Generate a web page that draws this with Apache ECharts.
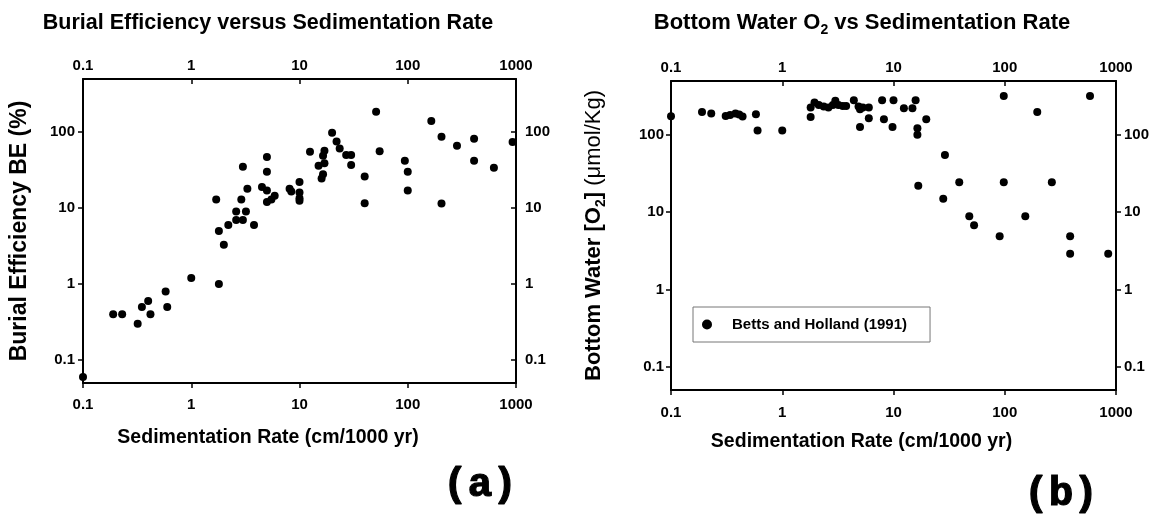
<!DOCTYPE html>
<html>
<head>
<meta charset="utf-8">
<script src="https://cdn.jsdelivr.net/npm/echarts@6/dist/echarts.min.js"></script>
<style>
  html, body { margin: 0; padding: 0; background: #fff; }
  #chart { width: 1160px; height: 517px; }
</style>
</head>
<body>
<div id="chart"></div>
<script>
const FONT = '"Liberation Sans", Arial, sans-serif';

const xTickLabels = ['0.1', '1', '10', '100', '1000'];
const yTickLabels = ['0.1', '1', '10', '100'];

// (a) burial efficiency vs sedimentation rate
const sedA = [0.1, 0.19, 0.23, 0.32, 0.35, 0.4, 0.42, 0.58, 0.6, 1.0,
  1.7, 1.8, 1.8, 2.0, 2.2, 2.6, 2.6, 2.9, 3.0, 3.0,
  3.2, 3.3, 3.8, 4.5, 5.0, 5.0, 5.0, 5.0, 5.9, 5.5,
  8.1, 8.4, 10, 10, 10, 10, 12.5, 15, 16, 16.5,
  16.5, 17, 17, 20, 22, 23.5, 27, 30, 30, 40,
  40, 51, 55, 94, 100, 100, 165, 205, 205, 285,
  410, 410, 625, 930];
const beA = [0.06, 0.4, 0.4, 0.3, 0.5, 0.6, 0.4, 0.8, 0.5, 1.2,
  13, 1.0, 5, 3.3, 6, 9, 7, 13, 35, 7,
  9, 18, 6, 19, 47, 30, 17, 12, 14.5, 13,
  18, 16.5, 22, 16, 13.5, 12.5, 55, 36, 24.5, 28,
  49, 57, 39, 98, 75, 61, 50, 50, 37, 26,
  11.6, 185, 56, 42, 30, 17, 140, 87, 11.5, 66,
  82, 42, 34, 74];

// (b) bottom water O2 vs sedimentation rate
const seriesNameB = 'Betts and Holland (1991)';
const sedB = [0.1, 0.19, 0.23, 0.31, 0.34, 0.38, 0.41, 0.44, 0.58, 0.6,
  1.0, 1.8, 1.8, 1.95, 2.13, 2.36, 2.6, 2.85, 3.0, 3.2,
  3.5, 3.75, 4.4, 4.85, 5.0, 5.3, 6.0, 5.0, 6.0, 7.9,
  8.2, 10, 9.8, 12.4, 14.8, 15.8, 16.4, 16.4, 19.7, 16.7,
  29, 28, 39, 48, 53, 90, 98, 98, 153, 196,
  265, 387, 387, 584, 851];
const o2B = [175, 199, 190, 176, 182, 190, 184, 173, 185, 114,
  114, 171, 227, 264, 245, 233, 227, 245, 277, 245,
  238, 238, 282, 233, 216, 227, 227, 127, 165, 282,
  160, 282, 127, 222, 222, 282, 122, 101, 160, 22,
  55, 15, 24.5, 8.9, 6.8, 4.9, 320, 24.5, 8.9, 199,
  24.5, 4.9, 2.9, 320, 2.9];

function decadeLabel(list) {
  return function (v) {
    const l = Math.log10(v);
    const e = Math.round(l);
    if (Math.abs(l - e) > 0.01) return '';
    const s = String(+Math.pow(10, e).toFixed(6));
    return list.indexOf(s) >= 0 ? s : '';
  };
}

const labelStyle = { color: '#000', fontFamily: FONT, fontWeight: 'bold', fontSize: 15 };

function xAxis(grid, pos, margin, inside, name, nameGap, namePad) {
  return {
    type: 'log', logBase: 10, min: 0.1, max: 1000, gridIndex: grid, position: pos,
    name: name || '', nameLocation: 'middle', nameGap: nameGap || 0,
    nameTextStyle: { color: '#000', fontFamily: FONT, fontWeight: 'bold', fontSize: 19.5, padding: [0, namePad || 0, 0, 0] },
    axisLine: { show: true, onZero: false, lineStyle: { color: '#000', width: 2 } },
    axisTick: { show: true, inside: inside, length: 5, lineStyle: { color: '#000', width: 1.5 } },
    minorTick: { show: false },
    axisLabel: Object.assign({ margin: margin, formatter: decadeLabel(xTickLabels) }, labelStyle),
    splitLine: { show: false }
  };
}

function yAxis(grid, pos, margin, inside, name, nameGap, nameStyle) {
  return {
    type: 'log', logBase: 10, min: 0.05, max: 500, gridIndex: grid, position: pos,
    name: name || '', nameLocation: 'middle', nameGap: nameGap || 0,
    nameTextStyle: nameStyle || {},
    axisLine: { show: true, onZero: false, lineStyle: { color: '#000', width: 2 } },
    axisTick: { show: true, inside: inside, length: 5, lineStyle: { color: '#000', width: 1.5 } },
    minorTick: { show: false },
    axisLabel: Object.assign({ margin: margin, showMinLabel: false, showMaxLabel: false,
      formatter: decadeLabel(yTickLabels) }, labelStyle),
    splitLine: { show: false }
  };
}

const chart = echarts.init(document.getElementById('chart'));

chart.setOption({
  backgroundColor: '#fff',
  animation: false,
  grid: [
    { left: 83, top: 79, right: 644, bottom: 134, containLabel: false },
    { left: 671, top: 81, right: 44, bottom: 127, containLabel: false }
  ],
  xAxis: [
    xAxis(0, 'bottom', 14, false, 'Sedimentation Rate (cm/1000 yr)', 45, 63),
    xAxis(0, 'top', 6, true),
    xAxis(1, 'bottom', 15, false, 'Sedimentation Rate (cm/1000 yr)', 42, 64),
    xAxis(1, 'top', 6, true)
  ],
  yAxis: [
    yAxis(0, 'left', 8, false, 'Burial Efficiency BE (%)', 52,
      { color: '#000', fontFamily: FONT, fontWeight: 'bold', fontSize: 23 }),
    yAxis(0, 'right', 9, true),
    yAxis(1, 'left', 7, false, '{b|Bottom Water [O}{s|2}{b|]} {r|(\u03bcmol/Kg)}', 63, {
      color: '#000', fontFamily: FONT, fontSize: 22,
      rich: {
        b: { color: '#000', fontFamily: FONT, fontWeight: 'bold', fontSize: 22, lineHeight: 28 },
        r: { color: '#000', fontFamily: FONT, fontWeight: 'normal', fontSize: 22, lineHeight: 28 },
        s: { color: '#000', fontFamily: FONT, fontWeight: 'bold', fontSize: 14, lineHeight: 14, verticalAlign: 'bottom' }
      }
    }),
    yAxis(1, 'right', 8, false)
  ],
  legend: {
    data: [seriesNameB],
    left: 693, top: 307,
    padding: [10, 23, 10, 9],
    itemWidth: 40, itemHeight: 10,
    icon: 'circle',
    borderColor: '#777', borderWidth: 1,
    textStyle: { color: '#000', fontFamily: FONT, fontWeight: 'bold', fontSize: 15 }
  },
  graphic: [
    { type: 'text', x: 268, y: 23,
      style: { text: 'Burial Efficiency versus Sedimentation Rate', fill: '#000',
        font: 'bold 21.5px ' + FONT, align: 'center', verticalAlign: 'middle',
        textAlign: 'center', textVerticalAlign: 'middle' } },
    { type: 'text', x: 862, y: 23,
      style: { text: '{b|Bottom Water O}{s|2}{b| vs Sedimentation Rate}', fill: '#000',
        font: 'bold 22px ' + FONT, align: 'center', verticalAlign: 'middle',
        textAlign: 'center', textVerticalAlign: 'middle',
        rich: {
          b: { fill: '#000', fontFamily: FONT, fontWeight: 'bold', fontSize: 22, lineHeight: 28 },
          s: { fill: '#000', fontFamily: FONT, fontWeight: 'bold', fontSize: 14, lineHeight: 14, verticalAlign: 'bottom' }
        } } },
    { type: 'text', x: 480, y: 486,
      style: { text: '(a)', fill: '#000', font: 'bold 41px "Liberation Mono", "DejaVu Sans Mono", monospace',
        stroke: '#000', lineWidth: 1.2,
        align: 'center', verticalAlign: 'middle', textAlign: 'center', textVerticalAlign: 'middle' } },
    { type: 'text', x: 1061, y: 495,
      style: { text: '(b)', fill: '#000', font: 'bold 41px "Liberation Mono", "DejaVu Sans Mono", monospace',
        stroke: '#000', lineWidth: 1.2,
        align: 'center', verticalAlign: 'middle', textAlign: 'center', textVerticalAlign: 'middle' } }
  ],
  series: [
    {
      name: 'Burial Efficiency', type: 'scatter', xAxisIndex: 0, yAxisIndex: 0,
      symbol: 'circle', symbolSize: 8, itemStyle: { color: '#000', opacity: 1 },
      data: sedA.map((x, i) => [x, beA[i]])
    },
    {
      name: seriesNameB, type: 'scatter', xAxisIndex: 2, yAxisIndex: 2,
      symbol: 'circle', symbolSize: 8, itemStyle: { color: '#000', opacity: 1 },
      data: sedB.map((x, i) => [x, o2B[i]])
    }
  ]
});
</script>
</body>
</html>
